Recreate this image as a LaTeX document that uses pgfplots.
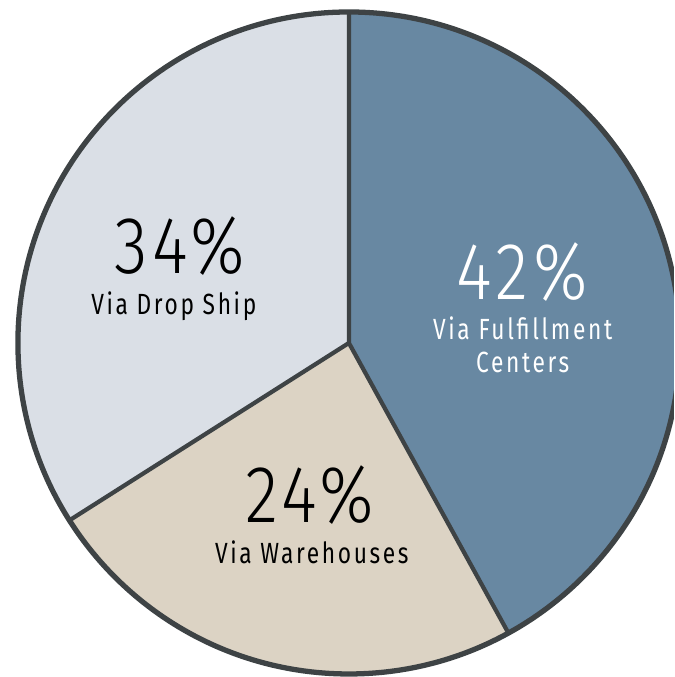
\documentclass[border=0pt]{standalone}
\usepackage{pgfplots}
\pgfplotsset{compat=1.18}
\usepackage{pgfplotstable}
\usepackage{fontspec}
\setmainfont{Fira Sans}
\newfontfamily\bigfont[FakeStretch=0.85,LetterSpace=6]{Fira Sans Light}
\newfontfamily\smallfont[FakeStretch=0.78,LetterSpace=9]{Fira Sans}

\definecolor{fulfil}{HTML}{6888A2}
\definecolor{ware}{HTML}{DCD3C4}
\definecolor{drop}{HTML}{DADFE6}
\definecolor{rim}{HTML}{3E4345}

% share of orders, clockwise from the top
\pgfplotstableread{
share
42
24
34
}\shares

\begin{document}
\begin{tikzpicture}[every node/.style={inner sep=0pt}]
\pgfplotstablegetelem{0}{share}\of\shares \let\sa\pgfplotsretval
\pgfplotstablegetelem{1}{share}\of\shares \let\sb\pgfplotsretval
\pgfplotstablegetelem{2}{share}\of\shares \let\sc\pgfplotsretval
\pgfmathsetmacro\aa{90-3.6*\sa}
\pgfmathsetmacro\ab{\aa-3.6*\sb}
\pgfmathsetmacro\ac{\ab-3.6*\sc}
\path[use as bounding box, clip] (0,0) rectangle (6.74cm,6.77cm);
\begin{axis}[
    at={(0,0)}, anchor=south west,
    scale only axis,
    width=6.74cm, height=6.77cm,
    xmin=-1.054, xmax=0.982,
    ymin=-1.009, ymax=1.036,
    hide axis,
    clip=false,
]
\fill[fulfil] (axis cs:0,0) -- (axis cs:0,1) arc[start angle=90, end angle=\aa, radius=3.31cm] -- cycle;
\fill[ware] (axis cs:0,0) -- ({axis cs:{cos(\aa)},{sin(\aa)}}) arc[start angle=\aa, end angle=\ab, radius=3.31cm] -- cycle;
\fill[drop] (axis cs:0,0) -- ({axis cs:{cos(\ab)},{sin(\ab)}}) arc[start angle=\ab, end angle=\ac, radius=3.31cm] -- cycle;
\draw[rim, line width=1.2pt] (axis cs:0,1) -- (axis cs:0,0) -- ({axis cs:{cos(\aa)},{sin(\aa)}});
\draw[rim, line width=1.2pt] (axis cs:0,0) -- ({axis cs:{cos(\ab)},{sin(\ab)}});
\draw[rim, line width=1.5pt] (axis cs:0,0) circle[radius=3.31cm];

\node[white, font=\bigfont\fontsize{23}{23}\selectfont] at (axis cs:0.523,0.214) {\sa\%};
\node[white, font=\smallfont\fontsize{8.3}{8.3}\selectfont] at (axis cs:0.525,0.044) {Via Fulfillment};
\node[white, font=\smallfont\fontsize{8.3}{8.3}\selectfont] at (axis cs:0.525,-0.060) {Centers};
\node[black, font=\bigfont\fontsize{23}{23}\selectfont] at (axis cs:-0.511,0.292) {\sc\%};
\node[black, font=\smallfont\fontsize{8.3}{8.3}\selectfont] at (axis cs:-0.529,0.112) {Via Drop Ship};
\node[black, font=\bigfont\fontsize{23}{23}\selectfont] at (axis cs:-0.118,-0.459) {\sb\%};
\node[black, font=\smallfont\fontsize{8.3}{8.3}\selectfont] at (axis cs:-0.112,-0.632) {Via Warehouses};
\end{axis}
\end{tikzpicture}
\end{document}
